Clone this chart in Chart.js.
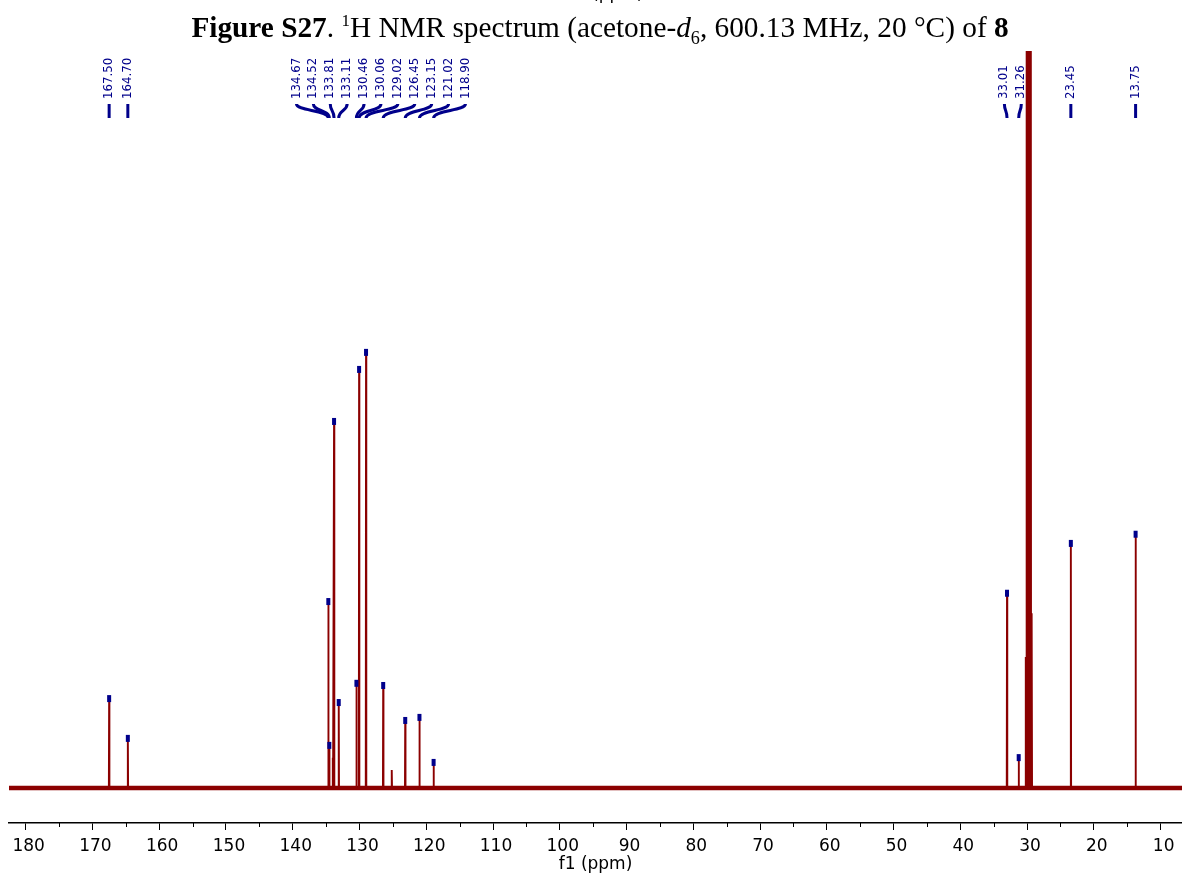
<!DOCTYPE html>
<html>
<head>
<meta charset="utf-8">
<title>13C NMR spectrum of 8</title>
<script src="https://cdn.jsdelivr.net/npm/chart.js@4.4.1/dist/chart.umd.min.js"></script>
<style>
  html, body { margin: 0; padding: 0; background: #fff; }
  #wrap { position: relative; width: 1182px; height: 878px; overflow: hidden; }
  #spectrum { position: absolute; left: 0; top: 0; }
  .caption {
    position: absolute; left: 9px; top: 11px; width: 1182px;
    text-align: center; white-space: nowrap; color: #000;
    font-family: 'Liberation Serif', 'Times New Roman', serif;
    font-size: 29.3px; line-height: 33px;
  }
  .caption sup { font-size: 0.58em; line-height: 0; vertical-align: 0.62em; }
  .caption sub { font-size: 0.62em; line-height: 0; }
  .prev-axis {
    position: absolute; left: 592px; top: 0; height: 3px; overflow: hidden;
  }
  .prev-axis span {
    display: block; margin-top: -17px; line-height: 20px;
    font-family: 'DejaVu Sans', Verdana, sans-serif; font-size: 17px; color: #000;
  }
</style>
</head>
<body>
<div id="wrap">
  <canvas id="spectrum" width="1182" height="878"></canvas>
  <div class="prev-axis"><span>(ppm)</span></div>
  <div class="caption"><b>Figure S27</b>. <sup>1</sup>H NMR spectrum (acetone-<i>d</i><sub>6</sub>, 600.13 MHz, 20 °C) of <b>8</b></div>
</div>
<script>
// picked peaks (ppm) and their heights (relative, tallest aromatic = 100)
const peakShifts  = [167.50, 164.70, 134.67, 134.52, 133.81, 133.11, 130.46, 130.06, 129.02,
                     126.45, 123.15, 121.02, 118.90, 33.01, 31.26, 23.45, 13.75];
const peakHeights = [20.8, 11.7, 43.0, 10.1, 84.2, 19.9, 24.3, 96.1, 100.0,
                     23.8, 15.8, 16.5, 6.2, 44.9, 7.3, 56.3, 58.4];

// small unpicked signals
const extraShifts  = [134.00, 125.17];
const extraHeights = [6.9, 4.1];

// acetone-d6 septet, runs off the top of the plot
const solventShifts  = [30.20, 30.05, 29.90, 29.75, 29.60, 29.45, 29.30];
const solventHeights = [30, 320, 320, 320, 320, 320, 40];

const tickPpm      = [180, 170, 160, 150, 140, 130, 120, 110, 100, 90, 80, 70, 60, 50, 40, 30, 20, 10];
const minorTickPpm = [175, 165, 155, 145, 135, 125, 115, 105, 95, 85, 75, 65, 55, 45, 35, 25, 15];
const ppmMin = 6.8, ppmMax = 182.5;

const SPEC_RED = '#8B0000';
const PICK_BLUE = '#00008B';

function buildTrace() {
  const lines = [];
  peakShifts.forEach((p, i) => lines.push([p, peakHeights[i]]));
  extraShifts.forEach((p, i) => lines.push([p, extraHeights[i]]));
  solventShifts.forEach((p, i) => lines.push([p, solventHeights[i]]));
  lines.sort((a, b) => b[0] - a[0]);
  const hw = 0.04;
  const pts = [{ x: ppmMax, y: 0 }];
  lines.forEach(([p, h]) => {
    pts.push({ x: p + hw, y: 0 }, { x: p, y: h }, { x: p - hw, y: 0 });
  });
  pts.push({ x: ppmMin, y: 0 });
  return pts;
}

// spread overlapping labels into evenly spaced groups
function spreadLabels(xs, gap) {
  let groups = xs.map(x => ({ xs: [x] }));
  const mid = g => (Math.min(...g.xs) + Math.max(...g.xs)) / 2;
  const half = g => (g.xs.length - 1) / 2 * gap;
  let merged = true;
  while (merged) {
    merged = false;
    for (let i = 0; i < groups.length - 1; i++) {
      const a = groups[i], b = groups[i + 1];
      if ((mid(b) - half(b)) - (mid(a) + half(a)) < gap) {
        groups.splice(i, 2, { xs: a.xs.concat(b.xs) });
        merged = true;
        break;
      }
    }
  }
  const out = [];
  groups.forEach(g => {
    const start = mid(g) - half(g);
    g.xs.forEach((_, k) => out.push(start + k * gap));
  });
  return out;
}

const peakPicks = {
  id: 'peakPicks',
  afterDraw(chart) {
    const { ctx, chartArea } = chart;
    const xs = chart.scales.x, ys = chart.scales.y;

    // minor ticks
    ctx.save();
    ctx.strokeStyle = '#000';
    ctx.lineWidth = 1;
    minorTickPpm.forEach(v => {
      const x = Math.round(xs.getPixelForValue(v)) + 0.5;
      ctx.beginPath();
      ctx.moveTo(x, chartArea.bottom);
      ctx.lineTo(x, chartArea.bottom + 4);
      ctx.stroke();
    });
    ctx.restore();

    const order = peakShifts.map((p, i) => i).sort((a, b) => peakShifts[b] - peakShifts[a]);
    const px = order.map(i => xs.getPixelForValue(peakShifts[i]));
    const lx = spreadLabels(px, 16.9);

    ctx.save();
    ctx.fillStyle = PICK_BLUE;
    ctx.strokeStyle = PICK_BLUE;
    order.forEach((i, k) => {
      const x = px[k], y = ys.getPixelForValue(peakHeights[i]);
      // marker on the peak top
      ctx.fillRect(x - 2, y - 2, 4, 7);

      // connector from label to peak
      ctx.lineWidth = 3;
      ctx.lineCap = 'butt';
      ctx.beginPath();
      ctx.moveTo(lx[k], 104);
      ctx.bezierCurveTo(lx[k], 111, x, 110, x, 118);
      ctx.stroke();

      // rotated shift label
      ctx.save();
      ctx.translate(lx[k], 99);
      ctx.rotate(-Math.PI / 2);
      ctx.font = "11.8px 'DejaVu Sans'";
      ctx.textAlign = 'left';
      ctx.textBaseline = 'middle';
      ctx.fillText(peakShifts[i].toFixed(2), 0, 0);
      ctx.restore();
    });
    ctx.restore();
  }
};

new Chart(document.getElementById('spectrum'), {
  type: 'scatter',
  data: {
    datasets: [{
      data: buildTrace(),
      showLine: true,
      borderColor: SPEC_RED,
      borderWidth: 1.9,
      borderJoinStyle: 'bevel',
      pointRadius: 0,
      clip: 0
    }, {
      data: [{ x: ppmMax, y: 0 }, { x: ppmMin, y: 0 }],
      showLine: true,
      borderColor: SPEC_RED,
      borderWidth: 4.5,
      pointRadius: 0,
      clip: 0
    }]
  },
  options: {
    responsive: false,
    animation: false,
    events: [],
    layout: { padding: { left: 9, right: 0, top: 51, bottom: 0 } },
    plugins: { legend: { display: false }, tooltip: { enabled: false } },
    scales: {
      x: {
        type: 'linear',
        reverse: true,
        min: ppmMin,
        max: ppmMax,
        afterBuildTicks: s => { s.ticks = tickPpm.map(v => ({ value: v })); },
        afterFit: s => { s.height = 55; },
        grid: { display: true, drawOnChartArea: false, drawTicks: true, tickLength: 7, color: '#000', lineWidth: 1 },
        border: { display: true, color: '#000', width: 1.4 },
        ticks: {
          color: '#000', padding: 6, labelOffset: 3, autoSkip: false, maxRotation: 0,
          font: { family: "'DejaVu Sans', Verdana, sans-serif", size: 17 }
        },
        title: {
          display: true, text: 'f1 (ppm)', color: '#000',
          padding: { top: 0, bottom: 3 },
          font: { family: "'DejaVu Sans', Verdana, sans-serif", size: 17 }
        }
      },
      y: { display: false, min: -8.0, max: 168.6 }
    }
  },
  plugins: [peakPicks]
});
</script>
</body>
</html>
